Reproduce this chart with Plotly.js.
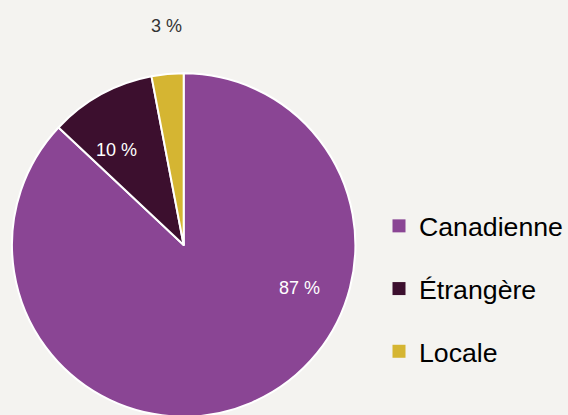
<!DOCTYPE html>
<html>
<head>
<meta charset="utf-8">
<script src="https://cdn.plot.ly/plotly-3.0.1.min.js"></script>
<style>html,body{margin:0;padding:0;background:#f4f3f0;overflow:hidden;}#chart{width:568px;height:417px;}</style>
</head>
<body>
<div id="chart"></div>
<script>
const categories = ['Canadienne', 'Étrangère', 'Locale'];
const values = [87, 10, 3];
const colors = ['#8a4594', '#3c0f2e', '#d5b532'];
const labelColors = ['#ffffff', '#ffffff', '#333333'];
// label anchor positions (pixels) for the percentage texts
const labelPos = [[300, 288], [117, 150], [167, 26]];

const W = 568, H = 417;
const FONT = 'Liberation Sans, Arial, sans-serif';

const pie = {
  type: 'pie',
  labels: categories,
  values: values,
  sort: false,
  direction: 'clockwise',
  rotation: 0,
  marker: {colors: colors, line: {color: '#ffffff', width: 2}},
  textinfo: 'none',
  showlegend: false,
  domain: {x: [12 / W, 356 / W], y: [0, 344 / H]},
  hovertemplate: '%{label}: %{value} %<extra></extra>'
};

const legendTraces = categories.map((c, i) => ({
  type: 'scatter', x: [null], y: [null], mode: 'markers',
  name: c, legendgroup: 'g' + i,
  marker: {symbol: 'square', size: 13, color: colors[i]},
  hoverinfo: 'skip'
}));

const annotations = values.map((v, i) => ({
  text: v + ' %',
  xref: 'paper', yref: 'paper',
  x: labelPos[i][0] / W, y: 1 - labelPos[i][1] / H,
  xanchor: 'center', yanchor: 'middle',
  showarrow: false,
  font: {family: FONT, size: 18, color: labelColors[i]}
}));

const layout = {
  width: W, height: H,
  margin: {l: 0, r: 0, t: 0, b: 0},
  paper_bgcolor: '#f4f3f0',
  plot_bgcolor: '#f4f3f0',
  xaxis: {visible: false},
  yaxis: {visible: false},
  showlegend: true,
  legend: {
    x: 380 / W, y: 1 - 289 / H, xanchor: 'left', yanchor: 'middle',
    font: {family: FONT, size: 26.7, color: '#000000'},
    tracegroupgap: 25,
    bgcolor: 'rgba(0,0,0,0)'
  },
  annotations: annotations
};

Plotly.newPlot('chart', [pie].concat(legendTraces), layout, {displayModeBar: false, staticPlot: true});
</script>
</body>
</html>
